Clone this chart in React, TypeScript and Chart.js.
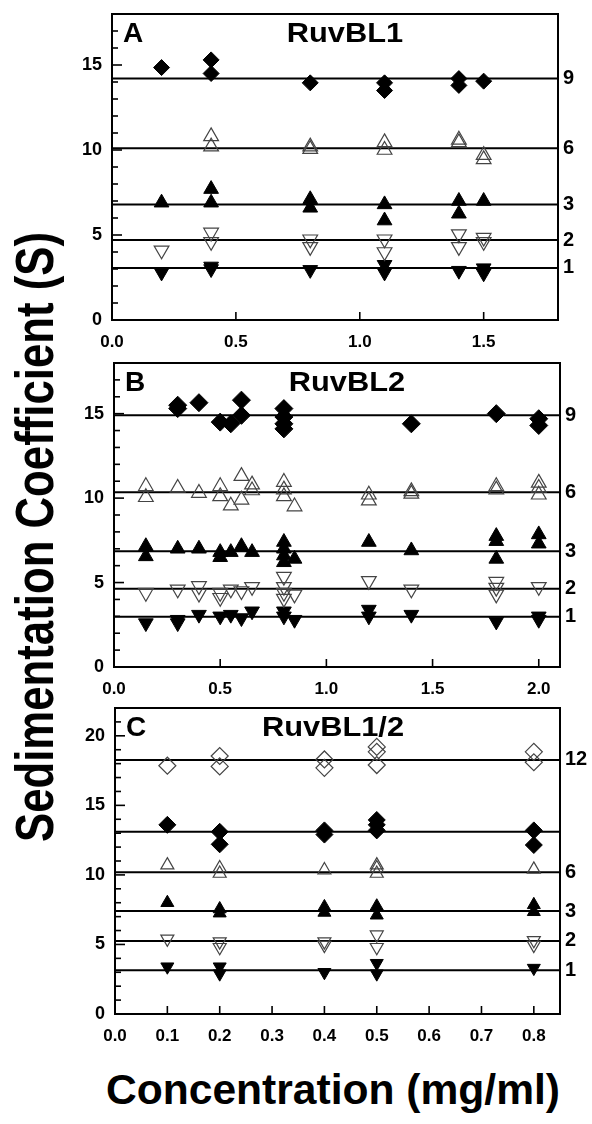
import React, { useEffect, useRef } from "react";
import { Chart, registerables } from "chart.js";
Chart.register(...registerables);

const FONT = "'Liberation Sans', Arial, Helvetica, sans-serif";

type Pt = [number, number];

// ---------- Panel A : RuvBL1 ----------
const ticksXA = [0, 0.5, 1.0, 1.5];
const ticksYA = [0, 5, 10, 15];
const linesA = [14.2, 10.1, 6.8, 4.7, 3.06];
const lineLabelsA = ["9", "6", "3", "2", "1"];
const a9: Pt[] = [[0.2, 14.85], [0.4, 15.3], [0.4, 14.5], [0.8, 13.95], [1.1, 13.95], [1.1, 13.5], [1.4, 14.2], [1.4, 13.8], [1.5, 14.05]];
const a6: Pt[] = [[0.4, 10.8], [0.4, 10.2], [0.8, 10.2], [0.8, 10.05], [1.1, 10.45], [1.1, 10.0], [1.4, 10.6], [1.4, 10.45], [1.5, 9.7], [1.5, 9.45]];
const a3: Pt[] = [[0.2, 6.9], [0.4, 7.7], [0.4, 6.9], [0.8, 7.1], [0.8, 6.6], [1.1, 6.8], [1.1, 5.85], [1.4, 7.0], [1.4, 6.25], [1.5, 7.0]];
const a2: Pt[] = [[0.2, 4.1], [0.4, 5.15], [0.4, 4.6], [0.8, 4.75], [0.8, 4.3], [1.1, 4.75], [1.1, 4.0], [1.4, 5.05], [1.4, 4.3], [1.5, 4.85], [1.5, 4.6]];
const a1: Pt[] = [[0.2, 2.8], [0.4, 3.15], [0.4, 3.0], [0.8, 2.95], [1.1, 3.25], [1.1, 2.8], [1.4, 2.9], [1.5, 3.05], [1.5, 2.75]];

// ---------- Panel B : RuvBL2 ----------
const ticksXB = [0, 0.5, 1.0, 1.5, 2.0];
const ticksYB = [0, 5, 10, 15];
const linesB = [14.9, 10.35, 6.85, 4.64, 2.98];
const lineLabelsB = ["9", "6", "3", "2", "1"];
const b9: Pt[] = [[0.3, 15.5], [0.3, 15.3], [0.4, 15.65], [0.5, 14.5], [0.55, 14.4], [0.6, 15.8], [0.6, 14.9], [0.8, 15.3], [0.8, 14.8], [0.8, 14.4], [0.8, 14.1], [1.4, 14.4], [1.8, 15.0], [2.0, 14.7], [2.0, 14.3]];
const b6: Pt[] = [[0.15, 10.7], [0.15, 10.05], [0.3, 10.6], [0.4, 10.3], [0.5, 10.7], [0.5, 10.1], [0.55, 9.55], [0.6, 11.3], [0.6, 9.9], [0.65, 10.8], [0.65, 10.45], [0.8, 10.95], [0.8, 10.5], [0.8, 10.1], [0.85, 9.5], [1.2, 10.2], [1.2, 9.85], [1.4, 10.4], [1.4, 10.25], [1.8, 10.7], [1.8, 10.5], [2.0, 10.9], [2.0, 10.6], [2.0, 10.2]];
const b3: Pt[] = [[0.15, 7.15], [0.15, 6.55], [0.3, 7.0], [0.4, 7.0], [0.5, 6.8], [0.5, 6.5], [0.55, 6.8], [0.6, 7.15], [0.65, 6.8], [0.8, 7.4], [0.8, 7.0], [0.8, 6.6], [0.8, 6.2], [0.85, 6.4], [1.2, 7.4], [1.4, 6.9], [1.8, 7.75], [1.8, 7.45], [1.8, 6.4], [2.0, 7.85], [2.0, 7.3]];
const b2: Pt[] = [[0.15, 4.4], [0.3, 4.6], [0.4, 4.8], [0.4, 4.35], [0.5, 4.4], [0.5, 4.1], [0.55, 4.6], [0.6, 4.5], [0.65, 4.75], [0.8, 5.35], [0.8, 4.75], [0.8, 4.4], [0.8, 4.05], [0.85, 4.3], [1.2, 5.1], [1.4, 4.6], [1.8, 5.05], [1.8, 4.7], [1.8, 4.3], [2.0, 4.75]];
const b1: Pt[] = [[0.15, 2.6], [0.3, 2.6], [0.3, 2.8], [0.4, 3.1], [0.5, 3.0], [0.55, 3.1], [0.6, 2.9], [0.65, 3.3], [0.8, 3.3], [0.8, 3.0], [0.85, 2.8], [1.2, 3.4], [1.2, 3.0], [1.4, 3.1], [1.8, 2.7], [2.0, 3.0], [2.0, 2.8]];

// ---------- Panel C : RuvBL1/2 ----------
const ticksXC = [0, 0.1, 0.2, 0.3, 0.4, 0.5, 0.6, 0.7, 0.8];
const ticksYC = [0, 5, 10, 15, 20];
const linesC = [18.27, 13.1, 10.2, 7.4, 5.25, 3.15];
const lineLabelsC = ["12", "", "6", "3", "2", "1"];
const c12: Pt[] = [[0.1, 17.85], [0.2, 18.55], [0.2, 17.8], [0.4, 18.3], [0.4, 17.7], [0.5, 19.2], [0.5, 18.85], [0.5, 17.9], [0.8, 18.85], [0.8, 18.1]];
const c9: Pt[] = [[0.1, 13.6], [0.2, 13.1], [0.2, 12.2], [0.4, 13.2], [0.4, 12.9], [0.5, 13.95], [0.5, 13.6], [0.5, 13.2], [0.8, 13.2], [0.8, 12.15]];
const c6: Pt[] = [[0.1, 10.7], [0.2, 10.5], [0.2, 10.1], [0.4, 10.35], [0.5, 10.7], [0.5, 10.5], [0.5, 10.1], [0.8, 10.4]];
const c3: Pt[] = [[0.1, 8.0], [0.2, 7.55], [0.2, 7.25], [0.4, 7.7], [0.4, 7.3], [0.5, 7.75], [0.5, 7.1], [0.8, 7.85], [0.8, 7.35]];
const c2: Pt[] = [[0.1, 5.4], [0.2, 5.2], [0.2, 4.8], [0.4, 5.2], [0.4, 4.95], [0.5, 5.7], [0.5, 4.8], [0.8, 5.3], [0.8, 4.95]];
const c1: Pt[] = [[0.1, 3.4], [0.2, 3.4], [0.2, 2.9], [0.4, 3.0], [0.5, 3.65], [0.5, 2.9], [0.8, 3.3]];

type Kind = "fDia" | "oDia" | "oUp" | "fUp" | "oDown" | "fDown";
const STYLE: Record<Kind, { style: string; fill: string; stroke: string; bw: number; rot: number; dia: boolean }> = {
  fDia: { style: "rectRot", fill: "#000", stroke: "#000", bw: 1, rot: 0, dia: true },
  oDia: { style: "rectRot", fill: "rgba(255,255,255,0)", stroke: "#444", bw: 1.2, rot: 0, dia: true },
  oUp: { style: "triangle", fill: "rgba(255,255,255,0)", stroke: "#444", bw: 1.2, rot: 0, dia: false },
  fUp: { style: "triangle", fill: "#000", stroke: "#000", bw: 1, rot: 0, dia: false },
  oDown: { style: "triangle", fill: "rgba(255,255,255,0)", stroke: "#444", bw: 1.2, rot: 180, dia: false },
  fDown: { style: "triangle", fill: "#000", stroke: "#000", bw: 1, rot: 180, dia: false },
};

interface PanelCfg {
  letter: string;
  title: string;
  titleDx: number;
  xMax: number;
  yMax: number;
  xTicks: number[];
  yTicks: number[];
  lines: number[];
  lineLabels: string[];
  series: { kind: Kind; pts: Pt[] }[];
  triR: number;
  diaR: number;
  plotLeft: number;
  plotRight: number;
  plotTop: number;
  plotBottom: number;
}

const CANVAS_LEFT = 50;
const PAGE_W = 592;
const PAD_TOP = 10;
const XAXIS_H = 32;

const panels: PanelCfg[] = [
  {
    letter: "A", title: "RuvBL1", titleDx: 233, xMax: 1.8, yMax: 18,
    xTicks: ticksXA, yTicks: ticksYA, lines: linesA, lineLabels: lineLabelsA,
    series: [{ kind: "fDia", pts: a9 }, { kind: "oUp", pts: a6 }, { kind: "fUp", pts: a3 }, { kind: "oDown", pts: a2 }, { kind: "fDown", pts: a1 }],
    triR: 8.5, diaR: 8, plotLeft: 112, plotRight: 558, plotTop: 14, plotBottom: 320,
  },
  {
    letter: "B", title: "RuvBL2", titleDx: 233, xMax: 2.1, yMax: 18,
    xTicks: ticksXB, yTicks: ticksYB, lines: linesB, lineLabels: lineLabelsB,
    series: [{ kind: "fDia", pts: b9 }, { kind: "oUp", pts: b6 }, { kind: "fUp", pts: b3 }, { kind: "oDown", pts: b2 }, { kind: "fDown", pts: b1 }],
    triR: 8.5, diaR: 9, plotLeft: 114, plotRight: 560, plotTop: 363, plotBottom: 667,
  },
  {
    letter: "C", title: "RuvBL1/2", titleDx: 218, xMax: 0.85, yMax: 22,
    xTicks: ticksXC, yTicks: ticksYC, lines: linesC, lineLabels: lineLabelsC,
    series: [{ kind: "oDia", pts: c12 }, { kind: "fDia", pts: c9 }, { kind: "oUp", pts: c6 }, { kind: "fUp", pts: c3 }, { kind: "oDown", pts: c2 }, { kind: "fDown", pts: c1 }],
    triR: 7.5, diaR: 8.5, plotLeft: 115, plotRight: 560, plotTop: 708, plotBottom: 1014,
  },
];

const framePlugin = {
  id: "frame",
  afterDatasetsDraw(chart: any, _args: any, opts: any) {
    const { ctx, chartArea: a, scales } = chart;
    const xs = scales.x;
    const ys = scales.y;
    ctx.save();
    ctx.strokeStyle = "#000";
    ctx.lineWidth = 2;
    ctx.strokeRect(a.left, a.top, a.right - a.left, a.bottom - a.top);
    ctx.lineWidth = 1.6;
    for (let v = Math.ceil(ys.min); v <= ys.max; v++) {
      const py = ys.getPixelForValue(v);
      const len = v % 5 === 0 ? 10 : 6;
      ctx.beginPath();
      ctx.moveTo(a.left, py);
      ctx.lineTo(a.left + len, py);
      ctx.stroke();
    }
    for (const t of xs.ticks) {
      if (t.value <= xs.min) continue;
      const px = xs.getPixelForValue(t.value);
      ctx.beginPath();
      ctx.moveTo(px, a.bottom);
      ctx.lineTo(px, a.bottom - 8);
      ctx.stroke();
    }
    ctx.fillStyle = "#000";
    ctx.font = `bold 28px ${FONT}`;
    ctx.textBaseline = "alphabetic";
    ctx.textAlign = "left";
    ctx.fillText(opts.letter, a.left + 11, a.top + 28);
    ctx.save();
    ctx.translate(a.left + opts.titleDx, a.top + 28);
    ctx.scale(1.1, 1);
    ctx.textAlign = "center";
    ctx.fillText(opts.title, 0, 0);
    ctx.restore();
    ctx.restore();
  },
};

function Panel({ cfg }: { cfg: PanelCfg }) {
  const ref = useRef<HTMLCanvasElement>(null);
  useEffect(() => {
    if (!ref.current) return;
    const datasets: any[] = [];
    cfg.series.forEach((s) => {
      const st = STYLE[s.kind];
      datasets.push({
        type: "scatter",
        data: s.pts.map(([x, y]) => ({ x, y })),
        pointStyle: st.style,
        pointRadius: st.dia ? cfg.diaR : cfg.triR,
        pointRotation: st.rot,
        pointBackgroundColor: st.fill,
        pointBorderColor: st.stroke,
        pointBorderWidth: st.bw,
        showLine: false,
        order: 1,
      });
    });
    cfg.lines.forEach((v) => {
      datasets.push({
        type: "line",
        data: [{ x: 0, y: v }, { x: cfg.xMax, y: v }],
        borderColor: "#000",
        borderWidth: 2,
        pointRadius: 0,
        fill: false,
        order: 10,
      });
    });
    const labelFor = (v: number) => {
      const i = cfg.lines.findIndex((l) => Math.abs(l - v) < 1e-6);
      return i >= 0 ? cfg.lineLabels[i] : "";
    };
    const noPadV = (s: any) => { s.paddingTop = 0; s.paddingBottom = 0; };
    const chart = new Chart(ref.current, {
      type: "scatter",
      data: { datasets },
      plugins: [framePlugin as any],
      options: {
        animation: false,
        responsive: false,
        maintainAspectRatio: false,
        events: [],
        layout: { padding: { top: PAD_TOP, left: 0, right: 0, bottom: 0 } },
        plugins: {
          legend: { display: false },
          tooltip: { enabled: false },
          frame: { letter: cfg.letter, title: cfg.title, titleDx: cfg.titleDx },
        } as any,
        scales: {
          x: {
            type: "linear",
            min: 0,
            max: cfg.xMax,
            afterFit: (s: any) => { s.height = XAXIS_H; s.paddingLeft = 0; s.paddingRight = 0; },
            afterBuildTicks: (s: any) => { s.ticks = cfg.xTicks.map((v) => ({ value: v })); },
            ticks: {
              callback: (v: any) => Number(v).toFixed(1),
              font: { family: FONT, size: 17, weight: "bold" },
              color: "#000",
              padding: 12,
              maxRotation: 0,
              autoSkip: false,
            },
            grid: { display: false, drawTicks: false },
            border: { display: false },
          },
          y: {
            type: "linear",
            position: "left",
            min: 0,
            max: cfg.yMax,
            afterFit: (s: any) => { s.width = cfg.plotLeft - CANVAS_LEFT; noPadV(s); },
            afterBuildTicks: (s: any) => { s.ticks = cfg.yTicks.map((v) => ({ value: v })); },
            ticks: {
              callback: (v: any) => String(v),
              font: { family: FONT, size: 18, weight: "bold" },
              color: "#000",
              padding: 10,
              autoSkip: false,
            },
            grid: { display: false, drawTicks: false },
            border: { display: false },
          },
          yr: {
            type: "linear",
            position: "right",
            min: 0,
            max: cfg.yMax,
            afterFit: (s: any) => { s.width = PAGE_W - cfg.plotRight; noPadV(s); },
            afterBuildTicks: (s: any) => {
              s.ticks = cfg.lines.filter((_, i) => cfg.lineLabels[i] !== "").map((v) => ({ value: v }));
            },
            ticks: {
              callback: (v: any) => labelFor(Number(v)),
              font: { family: FONT, size: 20, weight: "bold" },
              color: "#000",
              padding: 5,
              autoSkip: false,
            },
            grid: { display: false, drawTicks: false },
            border: { display: false },
          },
        },
      } as any,
    });
    return () => chart.destroy();
  }, [cfg]);

  const top = cfg.plotTop - PAD_TOP;
  const height = cfg.plotBottom - cfg.plotTop + PAD_TOP + XAXIS_H;
  const width = PAGE_W - CANVAS_LEFT;
  return (
    <canvas
      ref={ref}
      width={width}
      height={height}
      style={{ position: "absolute", left: CANVAS_LEFT, top, width, height }}
    />
  );
}

export default function App() {
  return (
    <div style={{ position: "absolute", left: 0, top: 0, width: 592, height: 1124, background: "#fff", overflow: "hidden" }}>
      {panels.map((p) => (
        <Panel key={p.letter} cfg={p} />
      ))}
      <div
        style={{
          position: "absolute",
          left: 34,
          top: 537,
          transform: "translate(-50%, -50%) rotate(-90deg) scaleX(0.81)",
          font: `bold 54px ${FONT}`,
          lineHeight: 1,
          whiteSpace: "nowrap",
          color: "#000",
        }}
      >
        Sedimentation Coefficient (S)
      </div>
      <div
        style={{
          position: "absolute",
          left: 333,
          top: 1089,
          transform: "translate(-50%, -50%) scaleX(0.99)",
          font: `bold 43px ${FONT}`,
          lineHeight: 1,
          whiteSpace: "nowrap",
          color: "#000",
        }}
      >
        Concentration (mg/ml)
      </div>
    </div>
  );
}
